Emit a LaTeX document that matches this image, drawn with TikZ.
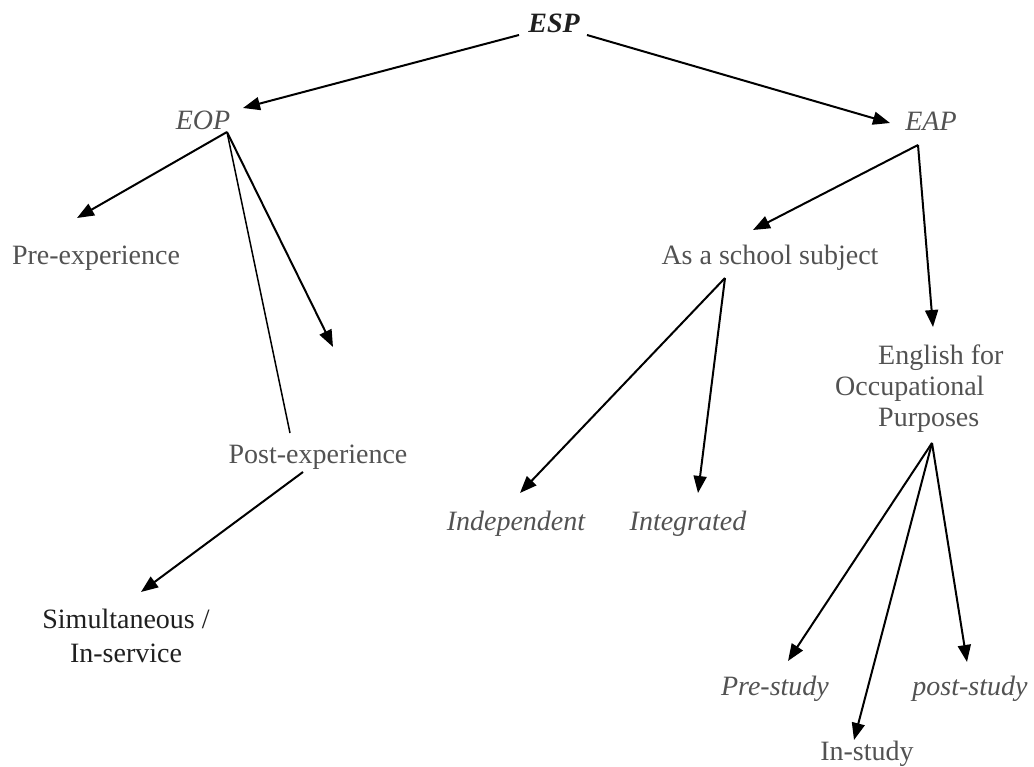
\documentclass[tikz,border=0pt]{standalone}
\usepackage{fontspec}
\setmainfont{Liberation Serif}
\usetikzlibrary{arrows.meta}
\definecolor{txt}{gray}{0.32}
\definecolor{dark}{gray}{0.12}
\begin{document}
\begin{tikzpicture}[x=1pt,y=-1pt,
  lbl/.style={font=\fontsize{28}{33}\selectfont, text=txt, inner sep=0pt, anchor=base},
  ital/.style={lbl, font=\fontsize{28}{33}\selectfont\itshape},
  arr/.style={line width=2pt, -{Triangle[length=17pt,width=13pt]}},
  thin/.style={line width=1.5pt}]
\useasboundingbox (0,0) rectangle (1034,767);

% labels
\node[lbl, text=dark, font=\fontsize{28}{33}\selectfont\bfseries\itshape] (esp) at (554,33) {ESP};
\node[ital] (eop) at (203,130) {EOP};
\node[ital] (eap) at (931,131) {EAP};
\node[lbl] (pre) at (96,265) {Pre-experience};
\node[lbl] (post) at (318,463) {Post-experience};
\node[lbl, text=dark] (simul) at (126,628)
  {\fontsize{28}{34}\selectfont\begin{tabular}[t]{@{}c@{}}Simultaneous /\\In-service\end{tabular}};
\node[lbl] (school) at (770,265) {As a school subject};
\node[ital] (indep) at (516,530) {Independent};
\node[ital] (integ) at (688,530) {Integrated};
\node[lbl, anchor=base west] (eop2) at (835,365)
  {\fontsize{28}{31}\selectfont\begin{tabular}[t]{@{}l@{}}\hspace*{43pt}English for\\Occupational\\\hspace*{43pt}Purposes\end{tabular}};
\node[ital] (prestudy) at (775,695) {Pre-study};
\node[ital] (poststudy) at (970,695) {post-study};
\node[lbl] (instudy) at (867,760) {In-study};

% connector end points
\coordinate (espL) at (519,35);
\coordinate (espR) at (587,35);
\coordinate (eopTip) at (243,108);
\coordinate (eapTip) at (890,123);
\coordinate (eopA) at (227,132);
\coordinate (preTip) at (77,218);
\coordinate (postTop) at (290,433);
\coordinate (freeTip) at (333,347);
\coordinate (postA) at (303,472);
\coordinate (simulTip) at (141,592);
\coordinate (eapA) at (918,145);
\coordinate (schoolTip) at (753,230);
\coordinate (eop2Tip) at (933,327);
\coordinate (schoolA) at (725,278);
\coordinate (indepTip) at (520,493);
\coordinate (integTip) at (698,493);
\coordinate (eop2A) at (932,443);
\coordinate (prestudyTip) at (788,661);
\coordinate (instudyTip) at (854,740);
\coordinate (poststudyTip) at (967,662);

% connectors
\draw[arr] (espL) -- (eopTip);
\draw[arr] (espR) -- (eapTip);
\draw[arr] (eopA) -- (preTip);
\draw[thin] (eopA) -- (postTop);
\draw[arr] (eopA) -- (freeTip);
\draw[arr] (postA) -- (simulTip);
\draw[arr] (eapA) -- (schoolTip);
\draw[arr] (eapA) -- (eop2Tip);
\draw[arr] (schoolA) -- (indepTip);
\draw[arr] (schoolA) -- (integTip);
\draw[arr] (eop2A) -- (prestudyTip);
\draw[arr] (eop2A) -- (instudyTip);
\draw[arr] (eop2A) -- (poststudyTip);
\end{tikzpicture}
\end{document}
